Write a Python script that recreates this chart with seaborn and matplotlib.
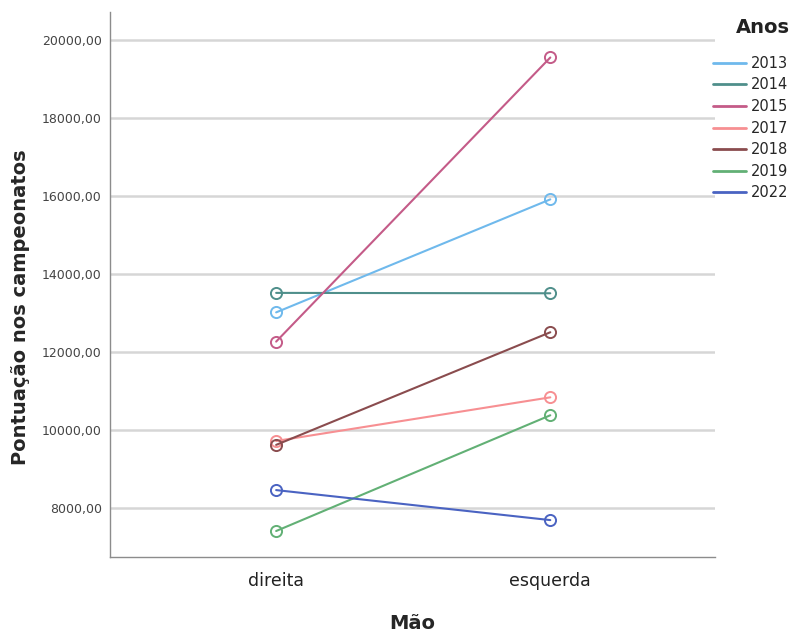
import matplotlib
matplotlib.use("Agg")
import matplotlib.pyplot as plt
import pandas as pd
import seaborn as sns
from matplotlib.lines import Line2D
from matplotlib.ticker import FuncFormatter

maos = ["direita", "esquerda"]
anos = ["2013", "2014", "2015", "2017", "2018", "2019", "2022"]
direita = [13020, 13520, 12270, 9720, 9620, 7410, 8460]
esquerda = [15920, 13510, 19560, 10840, 12510, 10380, 7690]
cores = ["#6fb9ec", "#4f8f8b", "#c45b88", "#f78f92", "#8a4c4e", "#62b075", "#4a63c2"]

df = pd.DataFrame({
    "Mão": [maos[0]] * len(anos) + [maos[1]] * len(anos),
    "Pontuação": direita + esquerda,
    "Anos": anos + anos,
})

sns.set_style("white")
fig = plt.figure(figsize=(8, 6.34), dpi=100)
ax = fig.add_axes([0.1375, 0.1215, 0.756, 0.859])

palette = dict(zip(anos, cores))
sns.lineplot(
    data=df, x="Mão", y="Pontuação", hue="Anos", hue_order=anos, palette=palette,
    marker="o", markersize=8, markerfacecolor="none", markeredgewidth=1.4,
    linewidth=1.5, ax=ax, legend=False,
)
# open circles in the line colour
for line in ax.lines:
    line.set_markeredgecolor(line.get_color())

ax.set_xlim(-0.606, 1.6)
ax.set_ylim(6744, 20718)
ax.set_yticks([8000, 10000, 12000, 14000, 16000, 18000, 20000])
ax.yaxis.set_major_formatter(FuncFormatter(lambda v, p: f"{v:.2f}".replace(".", ",")))
ax.grid(axis="y", color="#d6d6d6", linewidth=1.8)
ax.set_axisbelow(True)
for s in ["top", "right"]:
    ax.spines[s].set_visible(False)
for s in ["left", "bottom"]:
    ax.spines[s].set_color("#8c8c8c")
    ax.spines[s].set_linewidth(1.0)
ax.tick_params(axis="y", labelsize=9, labelcolor="#444444", length=0, pad=6)
ax.tick_params(axis="x", labelsize=12.5, labelcolor="#222222", length=0, pad=11)

ax.set_xlabel("Mão", fontsize=14, fontweight="bold", labelpad=17)
ax.set_ylabel("Pontuação nos campeonatos", fontsize=14, fontweight="bold")
ax.yaxis.set_label_coords(-0.133, 0.459)

fig.text(0.9875, 0.956, "Anos", ha="right", va="center", fontsize=14, fontweight="bold",
         color="#222222")
handles = [Line2D([0], [0], color=c, linewidth=2) for c in cores]
fig.legend(
    handles, anos, loc="upper right", bbox_to_anchor=(0.9925, 0.921),
    frameon=False, fontsize=10.5, handlelength=2.3, handletextpad=0.3, labelspacing=0.45,
    borderaxespad=0,
)

fig.savefig("out.png", dpi=100)
